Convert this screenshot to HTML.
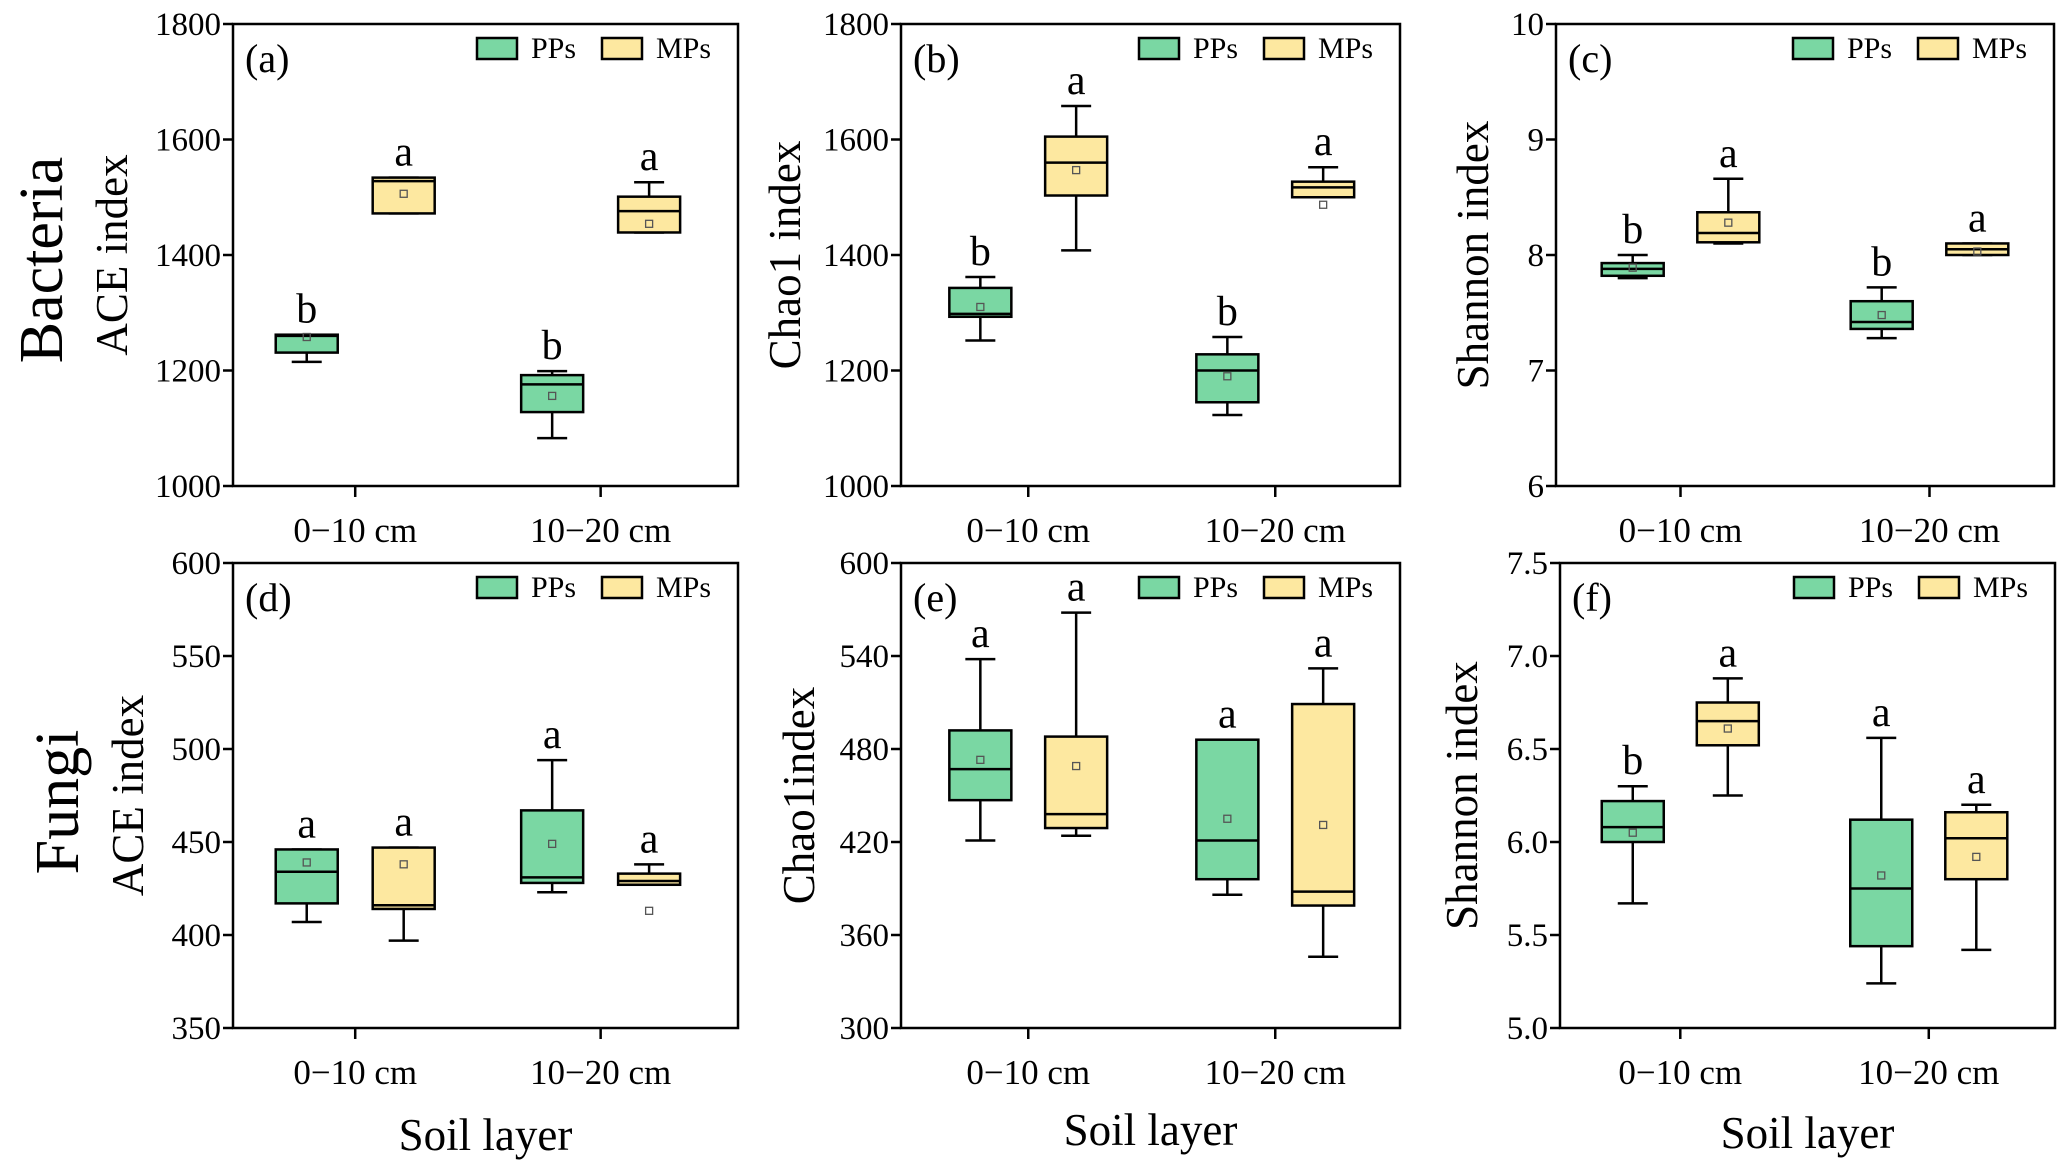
<!DOCTYPE html>
<html><head><meta charset="utf-8"><style>
html,body{margin:0;padding:0;background:#fff}
svg{display:block;font-family:"Liberation Serif",serif}
</style></head><body>
<svg id="chart" width="2067" height="1169" viewBox="0 0 2067 1169" xmlns="http://www.w3.org/2000/svg">
<text transform="translate(62,260) rotate(-90)" text-anchor="middle" font-size="62">Bacteria</text>
<text transform="translate(78,802) rotate(-90)" text-anchor="middle" font-size="62">Fungi</text>
</svg>
<script>
const categories = ["0\u221210 cm", "10\u221220 cm"];
const groups = ["PPs", "MPs"];
// each box: [whiskerLow, q1, median, q3, whiskerHigh, mean] order: PPs0, MPs0, PPs1, MPs1
const aVals = [[1215,1231,1260,1262,1262,1258],[1472,1472,1528,1534,1534,1506],[1083,1128,1176,1192,1199,1156],[1439,1439,1476,1501,1526,1454]];
const bVals = [[1252,1293,1298,1343,1362,1310],[1408,1503,1560,1605,1658,1547],[1123,1145,1200,1228,1258,1190],[1500,1500,1517,1527,1552,1487]];
const cVals = [[7.8,7.82,7.88,7.93,8.0,7.89],[8.1,8.11,8.19,8.37,8.66,8.28],[7.28,7.36,7.42,7.6,7.72,7.48],[8.0,8.0,8.05,8.1,8.1,8.03]];
const dVals = [[407,417,434,446,446,439],[397,414,416,447,447,438],[423,428,431,467,494,449],[427,427,429,433,438,413]];
const eVals = [[421,447,467,492,538,473],[424,429,438,488,568,469],[386,396,421,486,485,435],[346,379,388,509,532,431]];
const fVals = [[5.67,6.0,6.08,6.22,6.30,6.05],[6.25,6.52,6.65,6.75,6.88,6.61],[5.24,5.44,5.75,6.12,6.56,5.82],[5.42,5.80,6.02,6.16,6.20,5.92]];
const aLetters = ["b","a","b","a"], bLetters = ["b","a","b","a"], cLetters = ["b","a","b","a"];
const dLetters = ["a","a","a","a"], eLetters = ["a","a","a","a"], fLetters = ["b","a","a","a"];
const aTicks = [1000,1200,1400,1600,1800], bTicks = [1000,1200,1400,1600,1800], cTicks = [6,7,8,9,10];
const dTicks = [350,400,450,500,550,600], eTicks = [300,360,420,480,540,600], fTicks = [5.0,5.5,6.0,6.5,7.0,7.5];

const NS = "http://www.w3.org/2000/svg";
const svg = document.getElementById("chart");
const COLORS = ["#7ad7a3", "#fde8a0"];
function mk(tag, attrs, parent) {
  const e = document.createElementNS(NS, tag);
  for (const k in attrs) e.setAttribute(k, attrs[k]);
  (parent || svg).appendChild(e);
  return e;
}
const panels = [
  {id:"a", x0:233, x1:738, y0:24, y1:486, vals:aVals, letters:aLetters, ticks:aTicks, dec:0, title:"ACE index", tx:127, xl:false, fr:[0.242,0.728]},
  {id:"b", x0:901, x1:1400, y0:24, y1:486, vals:bVals, letters:bLetters, ticks:bTicks, dec:0, title:"Chao1 index", tx:800, xl:false, fr:[0.255,0.75]},
  {id:"c", x0:1556, x1:2054, y0:24, y1:486, vals:cVals, letters:cLetters, ticks:cTicks, dec:0, title:"Shannon index", tx:1488, xl:false, fr:[0.25,0.75]},
  {id:"d", x0:233, x1:738, y0:563, y1:1028, vals:dVals, letters:dLetters, ticks:dTicks, dec:0, title:"ACE index", tx:143, xl:true, sy:1150, fr:[0.242,0.728]},
  {id:"e", x0:901, x1:1400, y0:563, y1:1028, vals:eVals, letters:eLetters, ticks:eTicks, dec:0, title:"Chao1index", tx:814, xl:true, sy:1145, fr:[0.255,0.75]},
  {id:"f", x0:1560, x1:2055, y0:563, y1:1028, vals:fVals, letters:fLetters, ticks:fTicks, dec:1, title:"Shannon index", tx:1477, xl:true, sy:1148, fr:[0.243,0.745]}
];
panels.forEach(p => {
  const g = mk("g", {});
  
  
  const tmin = p.ticks[0], tmax = p.ticks[p.ticks.length-1];
  const y = v => p.y1 - (v - tmin) / (tmax - tmin) * (p.y1 - p.y0);
  const w = p.x1 - p.x0;
  const xc = i => p.x0 + w * p.fr[i];
  const off = w * 0.096, hw = 31, cap = 15;
  const fr = mk("rect", {x:p.x0, y:p.y0, width:w, height:p.y1-p.y0, fill:"none", stroke:"#000", "stroke-width":2.5}, g);
  
  
  p.ticks.forEach(t => {
    mk("line", {x1:p.x0-10, x2:p.x0, y1:y(t), y2:y(t), stroke:"#000", "stroke-width":2.5}, g);
    const tl = mk("text", {x:p.x0-12, y:y(t)+11, "text-anchor":"end", "font-size":33}, g);
    tl.textContent = p.dec ? t.toFixed(1) : String(t);
    
    
  });
  categories.forEach((c, i) => {
    mk("line", {x1:xc(i), x2:xc(i), y1:p.y1, y2:p.y1+11, stroke:"#000", "stroke-width":2.5}, g);
    const cl = mk("text", {x:xc(i), y:p.y1+56, "text-anchor":"middle", "font-size":35}, g);
    cl.textContent = c;
    
    
  });
  const yt = mk("text", {transform:`translate(${p.tx},${(p.y0+p.y1)/2}) rotate(-90)`, "text-anchor":"middle", "font-size":45}, g);
  yt.textContent = p.title;
  
  
  if (p.xl) {
    const xt = mk("text", {x:(p.x0+p.x1)/2, y:p.sy, "text-anchor":"middle", "font-size":45}, g);
    xt.textContent = "Soil layer";
    
    
  }
  const pl = mk("text", {x:p.x0+12, y:p.y0+48, "font-size":40}, g);
  pl.textContent = "(" + p.id + ")";
  
  
  groups.forEach((gr, k) => {
    const sx = p.x1 - (k === 0 ? 261 : 136);
    const sw = mk("rect", {x:sx, y:p.y0+14, width:40, height:21, fill:COLORS[k], stroke:"#000", "stroke-width":2.5}, g);
    
    
    const lt = mk("text", {x:sx+54, y:p.y0+34, "font-size":30}, g);
    lt.textContent = gr;
    
    
  });
  p.vals.forEach((v, j) => {
    const ci = j < 2 ? 0 : 1, gi = j % 2;
    const cx = xc(ci) + (gi === 0 ? -off : off);
    const bg = mk("g", {}, g);
    
    
    mk("line", {x1:cx, x2:cx, y1:y(v[4]), y2:y(v[3]), stroke:"#000", "stroke-width":2.5}, bg);
    mk("line", {x1:cx, x2:cx, y1:y(v[1]), y2:y(v[0]), stroke:"#000", "stroke-width":2.5}, bg);
    mk("line", {x1:cx-cap, x2:cx+cap, y1:y(v[4]), y2:y(v[4]), stroke:"#000", "stroke-width":2.5}, bg);
    mk("line", {x1:cx-cap, x2:cx+cap, y1:y(v[0]), y2:y(v[0]), stroke:"#000", "stroke-width":2.5}, bg);
    mk("rect", {x:cx-hw, y:y(v[3]), width:hw*2, height:Math.max(1, y(v[1])-y(v[3])), fill:COLORS[gi], stroke:"#000", "stroke-width":2.5}, bg);
    mk("line", {x1:cx-hw, x2:cx+hw, y1:y(v[2]), y2:y(v[2]), stroke:"#000", "stroke-width":2.5}, bg);
    mk("rect", {x:cx-3.5, y:y(v[5])-3.5, width:7, height:7, fill:"none", stroke:"#555", "stroke-width":1.3}, bg);
    const lt = mk("text", {x:cx, y:y(Math.max(v[4], v[3]))-12, "text-anchor":"middle", "font-size":42}, bg);
    lt.textContent = p.letters[j];
    
    
  });
});
</script>
</body></html>
